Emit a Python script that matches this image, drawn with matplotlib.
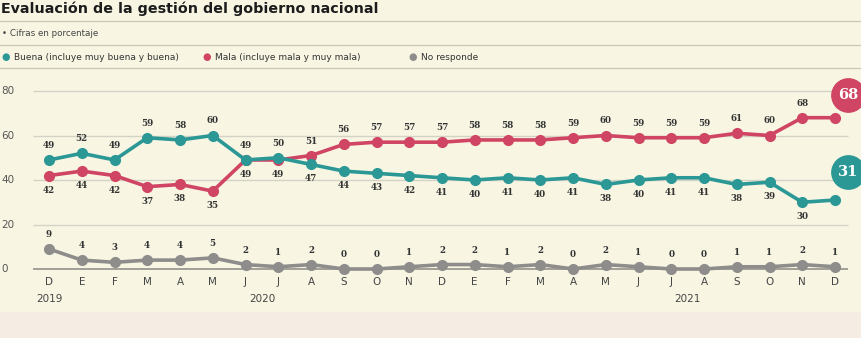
import numpy as np
import matplotlib.pyplot as plt

# datos (cifras en porcentaje)
meses = ['D', 'E', 'F', 'M', 'A', 'M', 'J', 'J', 'A', 'S', 'O', 'N', 'D',
         'E', 'F', 'M', 'A', 'M', 'J', 'J', 'A', 'S', 'O', 'N', 'D']
anios = ['2019', '2020', '2021']
anios_pos = [0, 6.5, 19.5]

buena = [49, 52, 49, 59, 58, 60, 49, 50, 47, 44, 43, 42, 41,
         40, 41, 40, 41, 38, 40, 41, 41, 38, 39, 30, 31]
mala = [42, 44, 42, 37, 38, 35, 49, 49, 51, 56, 57, 57, 57,
        58, 58, 58, 59, 60, 59, 59, 59, 61, 60, 68, 68]
no_resp = [9, 4, 3, 4, 4, 5, 2, 1, 2, 0, 0, 1, 2,
           2, 1, 2, 0, 2, 1, 0, 0, 1, 1, 2, 1]

c_buena = '#2b9896'
c_mala = '#cf4563'
c_nr = '#8e8d8b'
fondo = '#f8f6e3'

W, H = 862, 338
fig = plt.figure(figsize=(W / 100, H / 100), dpi=100)
fig.patch.set_facecolor(fondo)

# franja inferior
fig.patches.append(plt.Rectangle((0, 0), 1, 26 / H, transform=fig.transFigure,
                                 color='#f5ece4', zorder=0))

# cabecera
fig.text(1 / W, 1 - 9 / H, 'Evaluación de la gestión del gobierno nacional',
         fontsize=10.3, fontweight='bold', va='center', ha='left', color='#1c1c1c')
fig.text(2 / W, 1 - 33 / H, '• Cifras en porcentaje', fontsize=6.3,
         va='center', ha='left', color='#444444')
for yy in [21, 45, 68]:
    fig.add_artist(plt.Line2D([0, 1], [1 - yy / H, 1 - yy / H],
                              transform=fig.transFigure, color='#c9c7bb', lw=0.9))

ley = [('Buena (incluye muy buena y buena)', c_buena, 6),
       ('Mala (incluye mala y muy mala)', c_mala, 207),
       ('No responde', c_nr, 413)]
for txt, col, xp in ley:
    fig.text(xp / W, 1 - 57 / H, '●', color=col, fontsize=7, va='center', ha='center')
    fig.text((xp + 8) / W, 1 - 57 / H, txt, fontsize=6.5, va='center',
             ha='left', color='#333333')

# ejes del grafico
top_px, bot_px = 72, 312
ax = fig.add_axes([0, 1 - bot_px / H, 1, (bot_px - top_px) / H])
ax.set_facecolor('none')
ax.axis('off')
ppu_y = 2.225
ax.set_ylim((269 - bot_px) / ppu_y, (269 - top_px) / ppu_y)
ax.set_xlim((0 - 49) / 32.75, (W - 49) / 32.75)

x = np.arange(len(meses))

for v in [20, 40, 60, 80]:
    ax.hlines(v, -0.5, 24.4, color='#d4d2c4', lw=1.0, zorder=1)
    ax.text(-1.45, v, str(v), fontsize=7.5, va='center', ha='left', color='#555555')
ax.hlines(0, -0.5, 24.4, color='#9a9990', lw=1.3, zorder=1)
ax.text(-1.45, 0, '0', fontsize=7.5, va='center', ha='left', color='#555555')

kw = dict(lw=2.6, marker='o', markersize=7, zorder=3, solid_capstyle='round')
ax.plot(x, no_resp, color=c_nr, **kw)
ax.plot(x, mala, color=c_mala, **kw)
ax.plot(x, buena, color=c_buena, **kw)

fkw = dict(fontsize=6.3, fontweight='bold', family='DejaVu Serif',
           color='#333333', ha='center')
for i in range(len(x)):
    if i < len(x) - 1:
        if buena[i] >= mala[i] and i < 8:
            ax.text(x[i], buena[i] + 4.5, str(buena[i]), va='bottom', **fkw)
            ax.text(x[i], mala[i] - 4.5, str(mala[i]), va='top', **fkw)
        else:
            ax.text(x[i], mala[i] + 4.5, str(mala[i]), va='bottom', **fkw)
            ax.text(x[i], buena[i] - 4.5, str(buena[i]), va='top', **fkw)
    ax.text(x[i], no_resp[i] + 4.5, str(no_resp[i]), va='bottom', **fkw)
    ax.text(x[i], -6.0, meses[i], fontsize=7.5, va='center', ha='center', color='#444444')

for lab, pos in zip(anios, anios_pos):
    ax.text(pos, -13.6, lab, fontsize=7.5, va='center', ha='center', color='#444444')

# burbujas finales
ult = len(x) - 1
for val, col, yc in [(mala[ult], c_mala, 78.2), (buena[ult], c_buena, 43.6)]:
    ax.plot(ult + 0.4, yc, 'o', color=col, markersize=24, zorder=4)
    ax.text(ult + 0.4, yc, str(val), color='white', fontsize=10.5, fontweight='bold',
            family='DejaVu Serif', ha='center', va='center', zorder=5)

fig.savefig('out.png', dpi=100, facecolor=fondo)
